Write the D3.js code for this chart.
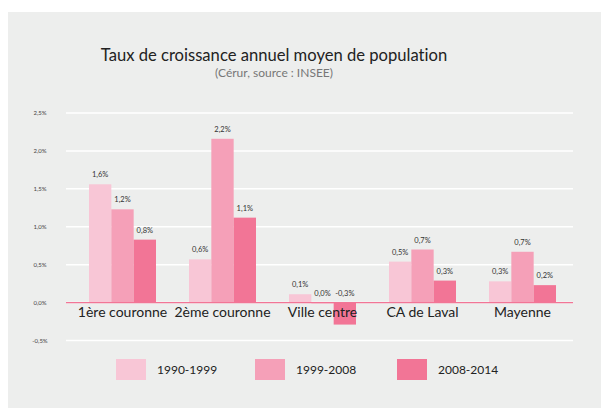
<!DOCTYPE html>
<html>
<head>
<meta charset="utf-8">
<script src="https://cdn.jsdelivr.net/npm/d3@7"></script>
<style>
  body { margin: 0; background: #fff; }
  svg { display: block; font-family: Lato, "Open Sans", sans-serif; font-variant-ligatures: none; }
</style>
</head>
<body>
<svg id="chart" width="601" height="408"></svg>
<script>
const categories = ['1ère couronne', '2ème couronne', 'Ville centre', 'CA de Laval', 'Mayenne'];
const seriesNames = ['1990-1999', '1999-2008', '2008-2014'];
const values1990 = [1.56, 0.57, 0.11, 0.54, 0.28];
const values1999 = [1.23, 2.16, -0.01, 0.70, 0.67];
const values2008 = [0.83, 1.12, -0.29, 0.29, 0.23];
const labels1990 = ['1,6%', '0,6%', '0,1%', '0,5%', '0,3%'];
const labels1999 = ['1,2%', '2,2%', '0,0%', '0,7%', '0,7%'];
const labels2008 = ['0,8%', '1,1%', '-0,3%', '0,3%', '0,2%'];
const yTicks = [-0.5, 0, 0.5, 1, 1.5, 2, 2.5];
const colors = ['#f8c6d6', '#f5a0b8', '#f27596'];

const seriesValues = [values1990, values1999, values2008];
const seriesLabels = [labels1990, labels1999, labels2008];

const svg = d3.select('#chart');

// panel
svg.append('rect')
  .attr('x', 8).attr('y', 12)
  .attr('width', 593).attr('height', 396)
  .attr('fill', '#edeeed');

svg.append('text')
  .attr('x', 274).attr('y', 61)
  .attr('text-anchor', 'middle')
  .attr('font-size', 16.6)
  .attr('fill', '#222')
  .text('Taux de croissance annuel moyen de population');

svg.append('text')
  .attr('x', 274).attr('y', 77)
  .attr('text-anchor', 'middle')
  .attr('font-size', 12)
  .attr('fill', '#777')
  .text('(Cérur, source : INSEE)');

const y = d3.scaleLinear().domain([-0.5, 2.5]).range([340.5, 113]);
const x0 = d3.scaleBand().domain(categories).range([72, 573]).paddingInner(0.33).paddingOuter(0.17);
const x1 = d3.scaleBand().domain(seriesNames).range([0, x0.bandwidth()]);

const fmtTick = d => d3.format('.1f')(d).replace('.', ',').replace('−', '-') + '%';

// grid
svg.append('g')
  .selectAll('line')
  .data(yTicks)
  .join('line')
  .attr('x1', 66).attr('x2', 573)
  .attr('y1', d => y(d)).attr('y2', d => y(d))
  .attr('stroke', '#fff')
  .attr('stroke-width', 1.5);

svg.append('g')
  .selectAll('text')
  .data(yTicks)
  .join('text')
  .attr('x', 40)
  .attr('y', d => y(d) + 2)
  .attr('text-anchor', 'middle')
  .attr('font-size', 6)
  .attr('fill', '#444')
  .text(fmtTick);

// bars
const groups = svg.append('g')
  .selectAll('g')
  .data(categories)
  .join('g')
  .attr('transform', d => `translate(${x0(d)},0)`);

seriesNames.forEach((s, si) => {
  groups.append('rect')
    .attr('x', x1(s))
    .attr('width', x1.bandwidth())
    .attr('y', (d, i) => y(Math.max(0, seriesValues[si][i])))
    .attr('height', (d, i) => Math.abs(y(seriesValues[si][i]) - y(0)))
    .attr('fill', colors[si]);

  groups.append('text')
    .attr('x', x1(s) + x1.bandwidth() / 2)
    .attr('y', (d, i) => y(Math.max(0, seriesValues[si][i])) - 7)
    .attr('text-anchor', 'middle')
    .attr('font-size', 7.5)
    .attr('fill', '#333')
    .text((d, i) => seriesLabels[si][i]);
});

// zero line
svg.append('line')
  .attr('x1', 66).attr('x2', 573)
  .attr('y1', y(0)).attr('y2', y(0))
  .attr('stroke', '#f27596')
  .attr('stroke-width', 1.2);

// category labels
svg.append('g')
  .selectAll('text')
  .data(categories)
  .join('text')
  .attr('x', d => x0(d) + x0.bandwidth() / 2)
  .attr('y', 317)
  .attr('text-anchor', 'middle')
  .attr('font-size', 14)
  .attr('fill', '#222')
  .text(d => d);

// legend
const legendX = [116, 255, 397];
const legend = svg.append('g')
  .selectAll('g')
  .data(seriesNames)
  .join('g')
  .attr('transform', (d, i) => `translate(${legendX[i]},359)`);

legend.append('rect')
  .attr('width', 30).attr('height', 21)
  .attr('fill', (d, i) => colors[i]);

legend.append('text')
  .attr('x', 41).attr('y', 15)
  .attr('font-size', 12)
  .attr('fill', '#222')
  .text(d => d);
</script>
</body>
</html>
